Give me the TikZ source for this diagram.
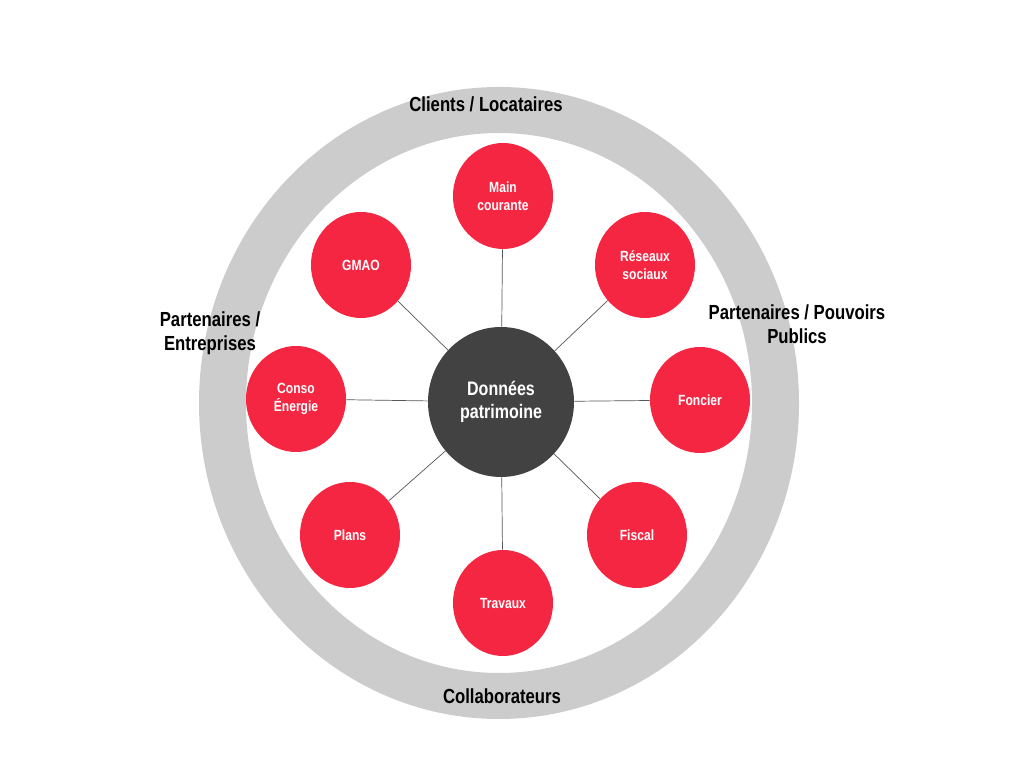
\documentclass[tikz,border=0pt]{standalone}
\usepackage{fontspec}
\setmainfont[FakeStretch=0.82]{Liberation Sans}
\usepackage{tikz}
\usetikzlibrary{positioning,shapes.geometric}
\definecolor{RingGray}{HTML}{CCCCCC}
\definecolor{CoreDark}{HTML}{424242}
\definecolor{SourceRed}{HTML}{F52641}
\definecolor{SpokeGray}{HTML}{555555}

\begin{document}
\begin{tikzpicture}[every node/.style={font=\bfseries},
  source/.style={ellipse,fill=SourceRed,text=white,inner sep=0pt,minimum width=2.5cm,minimum height=2.65cm,align=center,font=\bfseries\fontsize{10.5}{12.8}\selectfont},
  core/.style={ellipse,fill=CoreDark,text=white,inner sep=0pt,minimum width=3.65cm,minimum height=3.75cm,align=center,font=\bfseries\fontsize{13.9}{16.4}\selectfont},
  ringlabel/.style={align=center,font=\bfseries\fontsize{14.5}{17}\selectfont},
  spoke/.style={SpokeGray,line width=0.5pt}]
  \useasboundingbox (0,0) rectangle (25.6,19.2);
  % outer ring
  \fill[RingGray,even odd rule] (12.475,9.125) ellipse [x radius=7.5,y radius=7.9]
    (12.475,9.125) ellipse [x radius=6.325,y radius=6.75];
  \node[ringlabel] (clients) at (12.15,16.6) {Clients / Locataires};
  \node[ringlabel] (entreprises) at (5.25,10.875) {Partenaires /\\Entreprises};
  \node[ringlabel] (pouvoirs) at (19.925,11.1) {Partenaires / Pouvoirs\\Publics};
  \node[ringlabel] (collab) at (12.55,1.8) {Collaborateurs};
  % data sources
  \node[core] (data) at (12.525,9.15) {Données\\patrimoine};
  \foreach \name/\x/\y/\lab in {main/12.575/14.3/{Main\\courante},
      reseaux/16.125/12.575/{Réseaux\\sociaux},
      foncier/17.5/9.2/{Foncier},
      fiscal/15.925/5.825/{Fiscal},
      travaux/12.575/4.125/{Travaux},
      plans/8.75/5.825/{Plans},
      conso/7.4/9.225/{Conso\\Énergie},
      gmao/9.025/12.575/{GMAO}}{
    \node[source] (\name) at (\x,\y) {\lab};
    \draw[spoke] (data) -- (\name);
  }
\end{tikzpicture}
\end{document}
